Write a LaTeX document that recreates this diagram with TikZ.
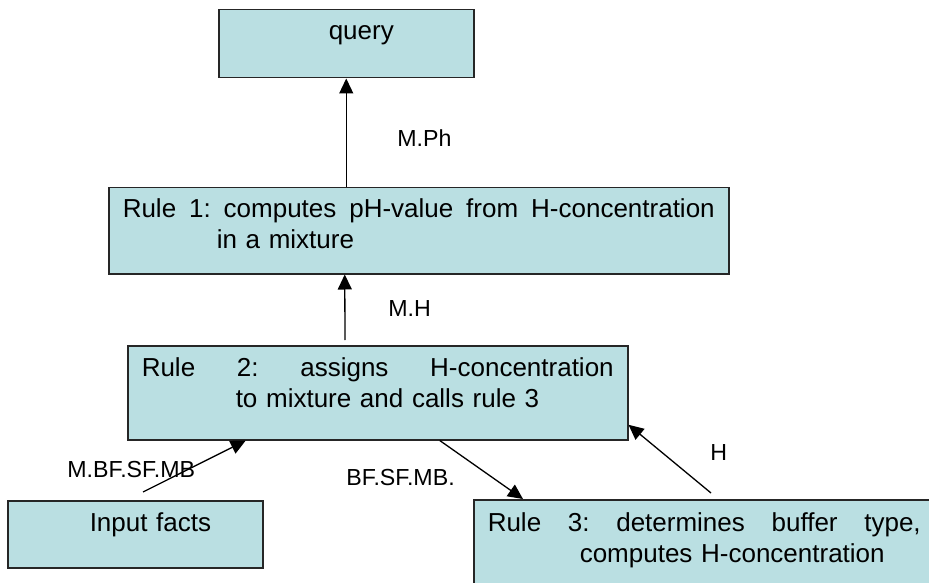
\documentclass[tikz,border=0pt]{standalone}
\usepackage{fontspec}
\setmainfont{Liberation Sans}
\usetikzlibrary{arrows.meta}
\definecolor{boxfill}{RGB}{186,223,226}
\tikzset{
  rulebox/.style={draw=black!85, line width=0.75pt, fill=boxfill, anchor=north west,
    inner ysep=0pt, inner xsep=7pt, align=left, font=\fontsize{13}{15.5}\selectfont},
  arr/.style={-{Triangle[length=7.5pt,width=7pt]}, line width=0.65pt},
  lbl/.style={anchor=base west, inner sep=0pt, font=\fontsize{11.6}{14}\selectfont}
}

\begin{document}
\begin{tikzpicture}[x=0.5pt,y=-0.5pt]
            \useasboundingbox (0,0) rectangle (929,582);
            \clip (0,0) rectangle (929,582);
            \node[rulebox, inner xsep=4pt, text width=119.5pt, text height=15pt, text depth=19pt] (query) at (218,9) {\hspace*{51pt}query};
            \node[rulebox, text width=296pt, text height=15pt, text depth=28pt] (rulea) at (108,187)
                {\makebox[296pt][s]{Rule\hfill 1:\hfill computes\hfill pH-value\hfill from\hfill H-concentration}\\\hspace*{47pt}in a mixture};
            \node[rulebox, text width=236pt, text height=15.5pt, text depth=31.5pt] (ruleb) at (127,345)
                {\makebox[236pt][s]{Rule\hfill 2:\hfill assigns\hfill H-concentration}\\\hspace*{47pt}to mixture and calls rule 3};
            \node[rulebox, inner xsep=4pt, text width=119.5pt, text height=15.5pt, text depth=18pt] (input) at (7,500) {\hspace*{37pt}Input facts};
            \node[rulebox, text width=229.5pt, text height=16pt, text depth=50pt] (rulec) at (473,499)
                {\makebox[216.5pt][s]{Rule\hfill 3:\hfill determines\hfill buffer\hfill type,}\\\hspace*{46pt}computes H-concentration};
            \coordinate (mhfoot) at (345,340);
            \coordinate (infoot) at (143,492);
            \coordinate (hfoot) at (711,493);
            \draw[arr] (rulea.north -| query.south) -- (query.south);
            \draw[arr] (mhfoot) -- ([xshift=-37pt]rulea.south);
            \draw[arr] (infoot) -- ([xshift=-66pt]ruleb.south);
            \draw[arr] ([xshift=31pt]ruleb.south) -- ([xshift=25pt]rulec.north west);
            \draw[arr] (hfoot) -- ([yshift=-16pt]ruleb.east);
            \node[lbl] (mph) at (397,147) {M.Ph};
            \node[lbl] (mh) at (388,316) {M.H};
            \node[lbl] (mbf) at (67,477) {M.BF.SF.MB};
            \node[lbl] (bf) at (346,485) {BF.SF.MB.};
            \node[lbl] (h) at (710,460) {H};
\end{tikzpicture}
\end{document}
